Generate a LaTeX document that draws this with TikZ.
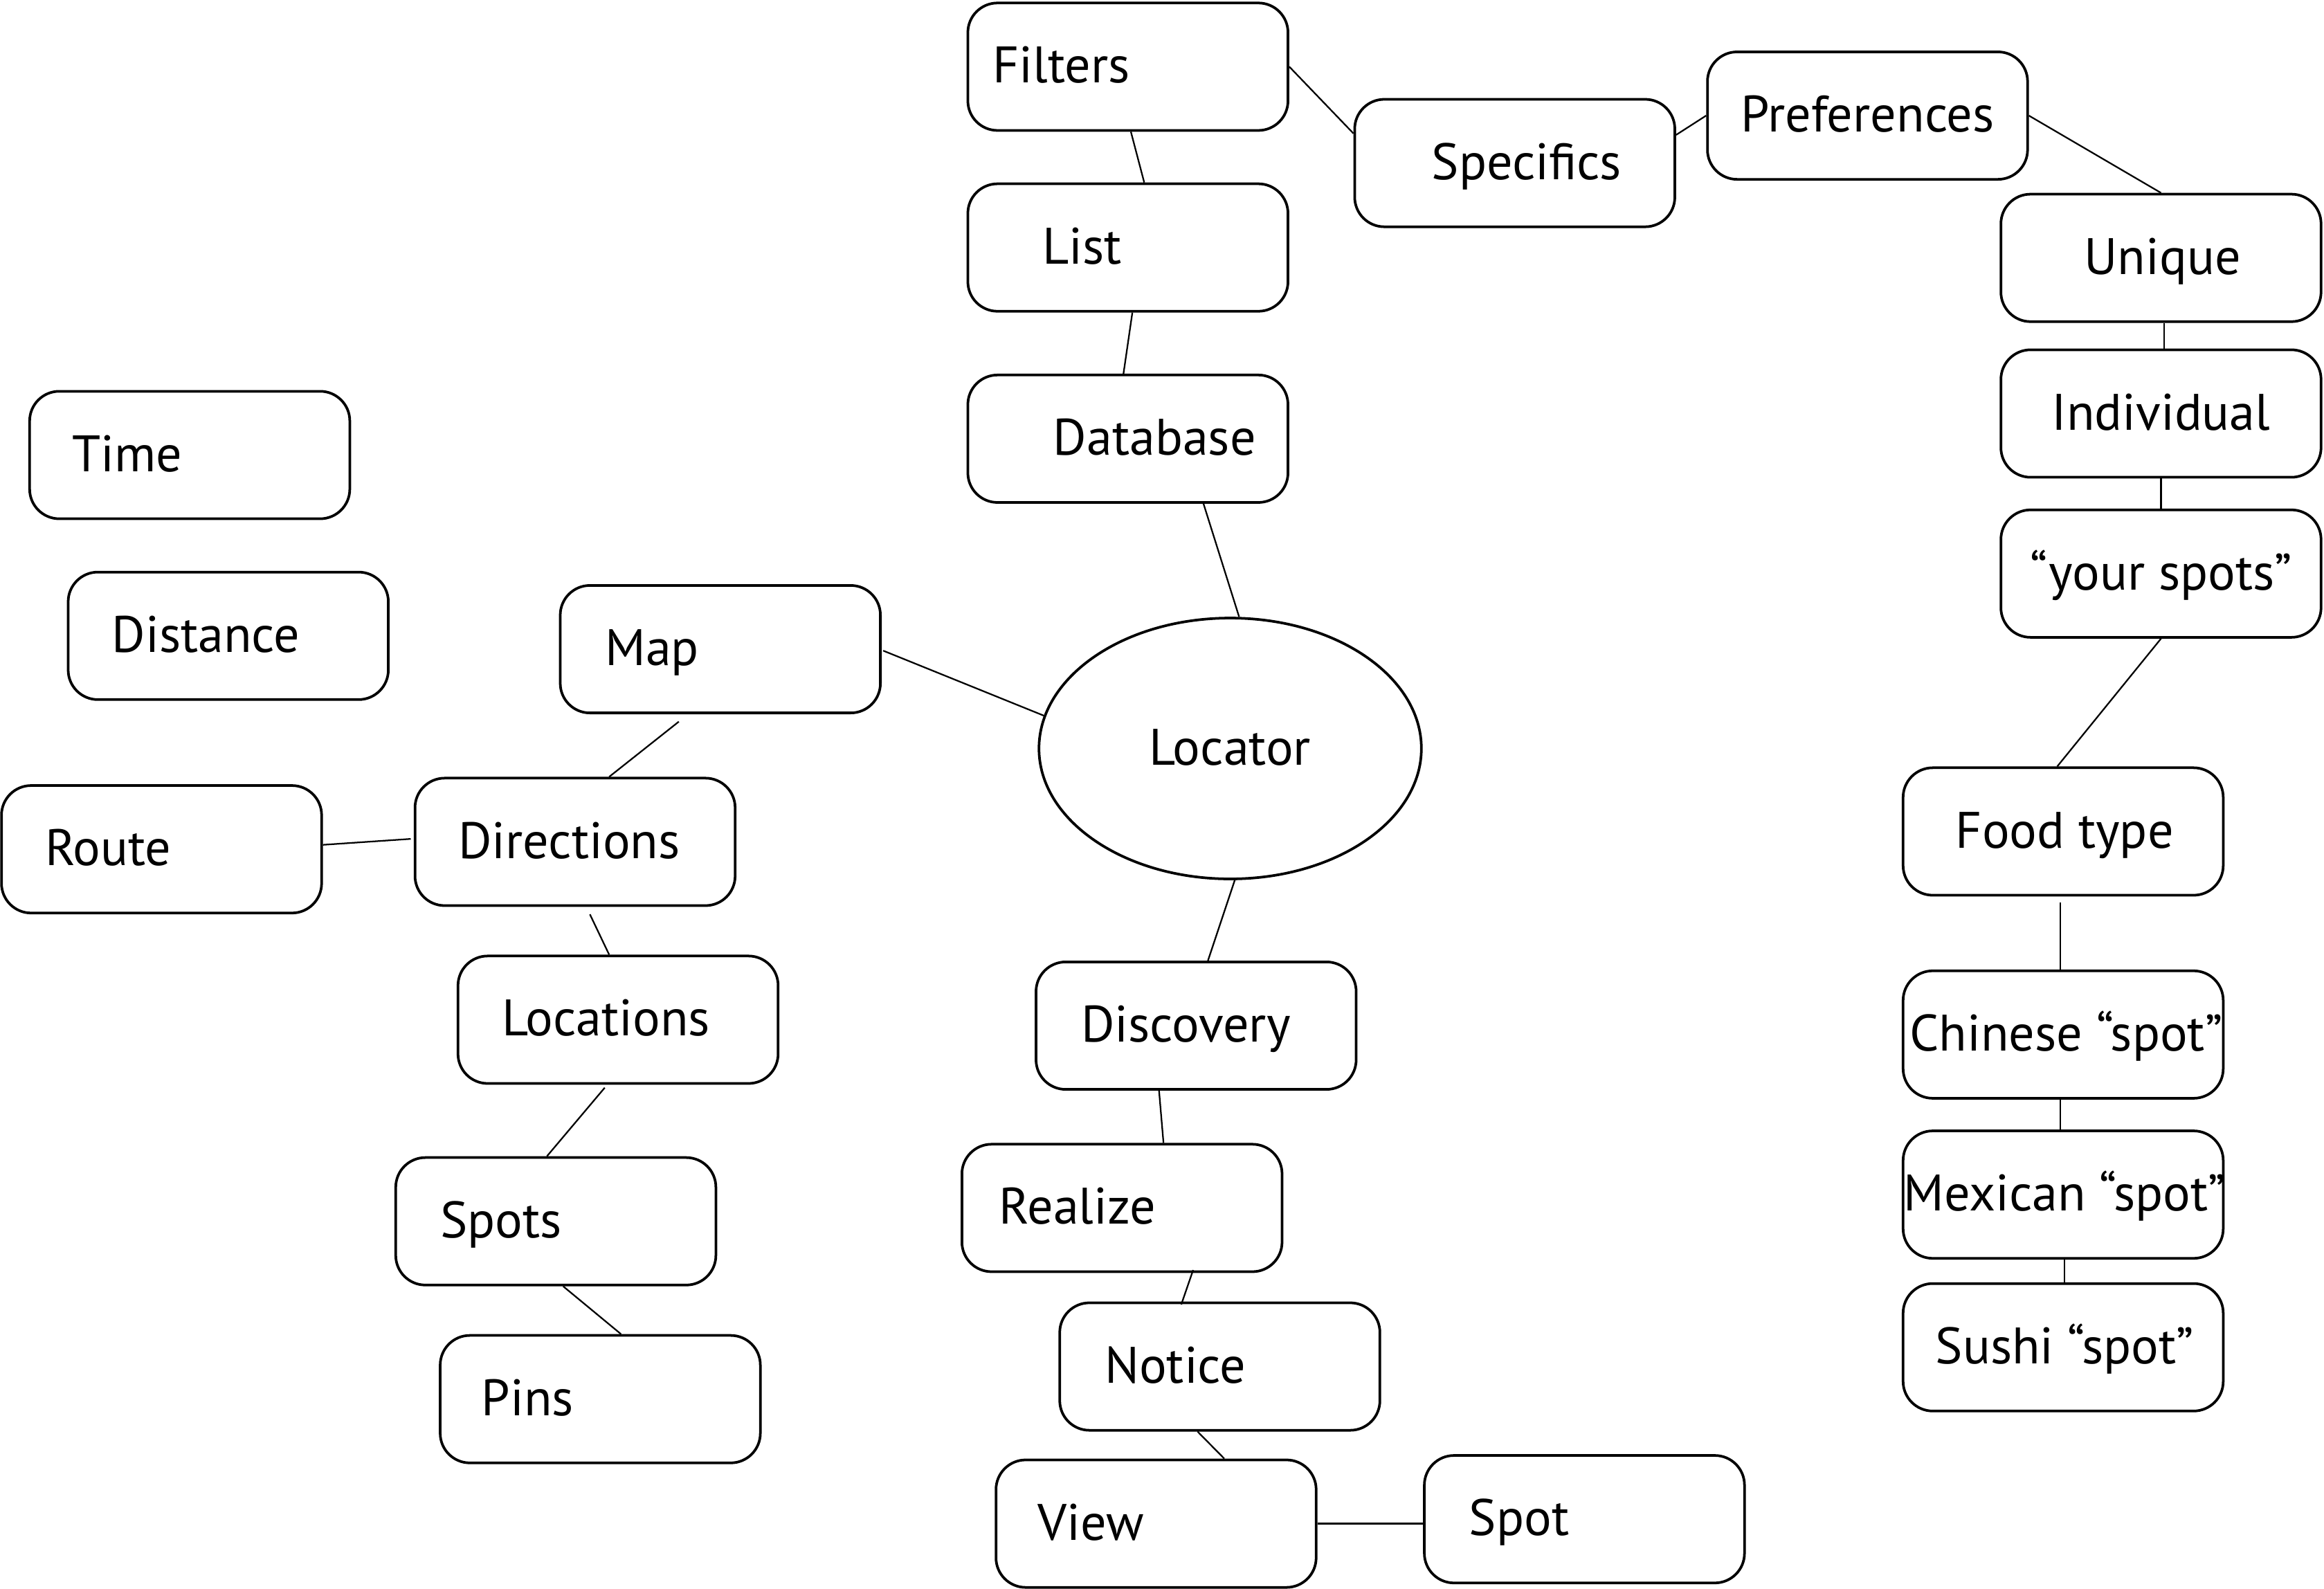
\documentclass[tikz,border=0pt]{standalone}
\usepackage{fontspec}
\setmainfont{PT Sans}
\usetikzlibrary{calc,shapes.geometric}

\begin{document}
\begin{tikzpicture}[x=0.2mm, y=-0.2mm,
    box/.style={draw, rounded corners=4mm, minimum width=43.2mm, minimum height=17.2mm, line width=1pt, inner sep=0},
    txt/.style={anchor=base, inner sep=0, font=\fontsize{19.7}{23}\selectfont},
    link/.style={line width=0.6pt}]
    \useasboundingbox (0,0) rectangle (1568,1072);

    % Centre
    \node[draw, ellipse, line width=1pt, minimum width=51.6mm, minimum height=35.2mm, inner sep=0] (locator) at (830,505) {};
    \node[txt] (locator-t) at (830,516) {Locator};

    % Upper branch
    \node[box] (filters) at (761,45) {};
    \node[txt] (filters-t) at (716,56) {Filters};
    \node[box] (list) at (761,167) {};
    \node[txt] (list-t) at (730,178) {List};
    \node[box] (database) at (761,296) {};
    \node[txt] (database-t) at (779,307) {Database};
    \node[box] (specifics) at (1022,110) {};
    \node[txt] (specifics-t) at (1030,121) {Specifics};
    \node[box] (preferences) at (1260,78) {};
    \node[txt] (preferences-t) at (1260,89) {Preferences};

    % Right branch
    \node[box] (unique) at (1458,174) {};
    \node[txt] (unique-t) at (1459,185) {Unique};
    \node[box] (individual) at (1458,279) {};
    \node[txt] (individual-t) at (1458,290) {Individual};
    \node[box] (yourspots) at (1458,387) {};
    \node[txt] (yourspots-t) at (1458,398) {“your spots”};
    \node[box] (foodtype) at (1392,561) {};
    \node[txt] (foodtype-t) at (1393,572) {Food type};
    \node[box] (chinese) at (1392,698) {};
    \node[txt] (chinese-t) at (1394,709) {Chinese “spot”};
    \node[box] (mexican) at (1392,806) {};
    \node[txt] (mexican-t) at (1393,817) {Mexican “spot”};
    \node[box] (sushi) at (1392,909) {};
    \node[txt] (sushi-t) at (1393,920) {Sushi “spot”};

    % Left branch
    \node[box] (time) at (128,307) {};
    \node[txt] (time-t) at (86,318) {Time};
    \node[box] (distance) at (154,429) {};
    \node[txt] (distance-t) at (139,440) {Distance};
    \node[box] (map) at (486,438) {};
    \node[txt] (map-t) at (440,449) {Map};
    \node[box] (route) at (109,573) {};
    \node[txt] (route-t) at (73,584) {Route};
    \node[box] (directions) at (388,568) {};
    \node[txt] (directions-t) at (384,579) {Directions};
    \node[box] (locations) at (417,688) {};
    \node[txt] (locations-t) at (409,699) {Locations};
    \node[box] (spots) at (375,824) {};
    \node[txt] (spots-t) at (338,835) {Spots};
    \node[box] (pins) at (405,944) {};
    \node[txt] (pins-t) at (356,955) {Pins};

    % Lower branch
    \node[box] (discovery) at (807,692) {};
    \node[txt] (discovery-t) at (800,703) {Discovery};
    \node[box] (realize) at (757,815) {};
    \node[txt] (realize-t) at (727,826) {Realize};
    \node[box] (notice) at (823,922) {};
    \node[txt] (notice-t) at (793,933) {Notice};
    \node[box] (view) at (780,1028) {};
    \node[txt] (view-t) at (736,1039) {View};
    \node[box] (spot) at (1069,1025) {};
    \node[txt] (spot-t) at (1025,1036) {Spot};

    % Lines
    \draw[link] ($(filters.south)+(2,0)$) -- ($(list.north)+(11,0)$);
    \draw[link] ($(list.south)+(3,0)$) -- ($(database.north)+(-3,0)$);
    \draw[link] ($(database.south)+(51,0)$) -- ($(locator.north)+(6,0)$);
    \draw[link] (filters.east) -- ($(specifics.west)+(0,-20)$);
    \draw[link] ($(specifics.east)+(0,-19)$) -- (preferences.west);
    \draw[link] (preferences.east) -- (unique.north);
    \draw[link] ($(unique.south)+(2,0)$) -- ($(individual.north)+(2,0)$);
    \draw[link] (individual.south) -- (yourspots.north);
    \draw[link] (yourspots.south) -- ($(foodtype.north)+(-4,0)$);
    \draw[link] ($(foodtype.south)+(-2,4)$) -- ($(chinese.north)+(-2,0)$);
    \draw[link] ($(chinese.south)+(-2,0)$) -- ($(mexican.north)+(-2,0)$);
    \draw[link] ($(mexican.south)+(1,0)$) -- ($(sushi.north)+(1,0)$);

    \draw[link] ($(map.east)+(1,1)$) -- (locator.170);
    \draw[link] ($(map.south)+(-28,5)$) -- ($(directions.north)+(23,0)$);
    \draw[link] ($(route.east)+(0,-3)$) -- ($(directions.west)+(-2,-2)$);
    \draw[link] ($(directions.south)+(10,5)$) -- ($(locations.north)+(-6,0)$);
    \draw[link] ($(locations.south)+(-9,2)$) -- ($(spots.north)+(-6,0)$);
    \draw[link] ($(spots.south)+(5,0)$) -- ($(pins.north)+(14,0)$);

    \draw[link] (locator.-88) -- ($(discovery.north)+(8,0)$);
    \draw[link] ($(discovery.south)+(-25,0)$) -- ($(realize.north)+(28,0)$);
    \draw[link] ($(realize.south)+(48,-2)$) -- ($(notice.north)+(-26,2)$);
    \draw[link] ($(notice.south)+(-15,0)$) -- ($(view.north)+(46,0)$);
    \draw[link] (view.east) -- (view.east -| spot.west);
  \end{tikzpicture}
\end{document}
